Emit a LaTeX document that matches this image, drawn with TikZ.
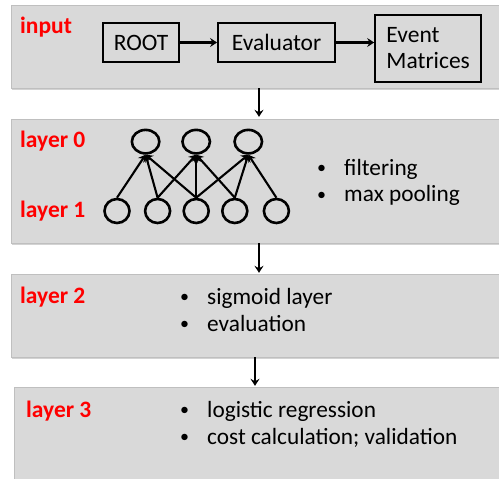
\documentclass[tikz,border=0pt]{standalone}
\usepackage{fontspec}
\setmainfont{Carlito}
\usetikzlibrary{positioning,shadows,arrows.meta,shapes.geometric}
\newcommand{\bdot}{\makebox[27pt][l]{\raisebox{1.8pt}{\fontsize{18}{18}\selectfont\textbullet}}}
\tikzset{panel/.style={draw=black!25,fill=black!15,drop shadow={shadow xshift=1pt,shadow yshift=-1.5pt,opacity=.35}}}
\tikzset{box/.style={draw,line width=2.1pt,inner sep=0pt,font=\fontsize{23.5}{26}\selectfont}}
\tikzset{unit/.style={draw,ellipse,line width=2.6pt,inner sep=0pt}}
\tikzset{tag/.style={text=red,font=\bfseries\fontsize{23.5}{26}\selectfont,anchor=base west,inner sep=0pt}}
\tikzset{items/.style={font=\fontsize{23.3}{27}\selectfont,anchor=base west,inner sep=0pt}}
\tikzset{arr/.style={-{Stealth[length=7pt,width=9pt,inset=2.5pt]},line width=2.1pt}}

\begin{document}
\begin{tikzpicture}[x=1pt,y=-1pt]
\clip (0,0) rectangle (499,479);
\node[panel,minimum width=500pt,minimum height=83pt] (in) at (261,46.5) {};
\node[panel,minimum width=500pt,minimum height=124pt] (l01) at (261,181) {};
\node[panel,minimum width=500pt,minimum height=83pt] (l2) at (261,315.5) {};
\node[panel,minimum width=500pt,minimum height=113pt] (l3) at (264,443.5) {};
\coordinate (m) at (259,0);
\coordinate (n) at (255,0);
\draw[arr] (in.south -| m) -- ([yshift=2pt]l01.north -| m);
\draw[arr] (l01.south -| m) -- ([yshift=1pt]l2.north -| m);
\draw[arr] (l2.south -| n) -- ([yshift=1pt]l3.north -| n);

\node[tag] (ti) at (20,33) {input};
\node[box,minimum width=76pt,minimum height=39pt] (root) at (141,42.5) {ROOT};
\node[box,minimum width=117pt,minimum height=39pt,right=37pt of root] (ev) {Evaluator};
\node[box,minimum width=106pt,minimum height=67pt,align=left,right=38pt of ev,yshift=-6pt] (em) {Event\\Matrices};
\draw[arr] (root) -- (ev);
\draw[arr] (ev.east) -- (ev.east -| em.west);

\node[tag] (t0) at (20,147) {layer 0};
\node[tag] (t1) at (20,217) {layer 1};
\node[unit,minimum width=25pt,minimum height=24pt] (b1) at (117,211) {};
\node[unit,minimum width=25pt,minimum height=24pt,right=13pt of b1] (b2) {};
\node[unit,minimum width=25pt,minimum height=24pt,right=11pt of b2] (b3) {};
\node[unit,minimum width=25pt,minimum height=24pt,right=11pt of b3] (b4) {};
\node[unit,minimum width=25pt,minimum height=24pt,right=14pt of b4] (b5) {};
\node[unit,minimum width=27.5pt,minimum height=23.5pt,above=43pt of b3] (u2) {};
\node[unit,minimum width=27.5pt,minimum height=23.5pt,left=20.5pt of u2] (u1) {};
\node[unit,minimum width=27.5pt,minimum height=23.5pt,right=22pt of u2] (u3) {};
\draw (b1.north) edge[arr] (u1.south) (b2.north) edge[arr] (u1.south)
      (b3.north) edge[arr] (u1.south);
\draw (b2.north) edge[arr] (u2.south) (b3.north) edge[arr] (u2.south)
      (b4.north) edge[arr] (u2.south);
\draw (b3.north) edge[arr] (u3.south) (b4.north) edge[arr] (u3.south)
      (b5.north) edge[arr] (u3.south);
\node[items] (f) at (317,175) {\begin{tabular}[t]{@{}l@{}l@{}}\bdot&filtering\\\bdot&max pooling\end{tabular}};

\node[tag] (t2) at (20,303) {layer 2};
\node[items] (s) at (180,304) {\begin{tabular}[t]{@{}l@{}l@{}}\bdot&sigmoid layer\\\bdot&evaluation\end{tabular}};

\node[tag] (t3) at (26,417) {layer 3};
\node[items] (c) at (180,417) {\begin{tabular}[t]{@{}l@{}l@{}}\bdot&logistic regression\\\bdot&cost calculation; validation\end{tabular}};
\end{tikzpicture}
\end{document}
